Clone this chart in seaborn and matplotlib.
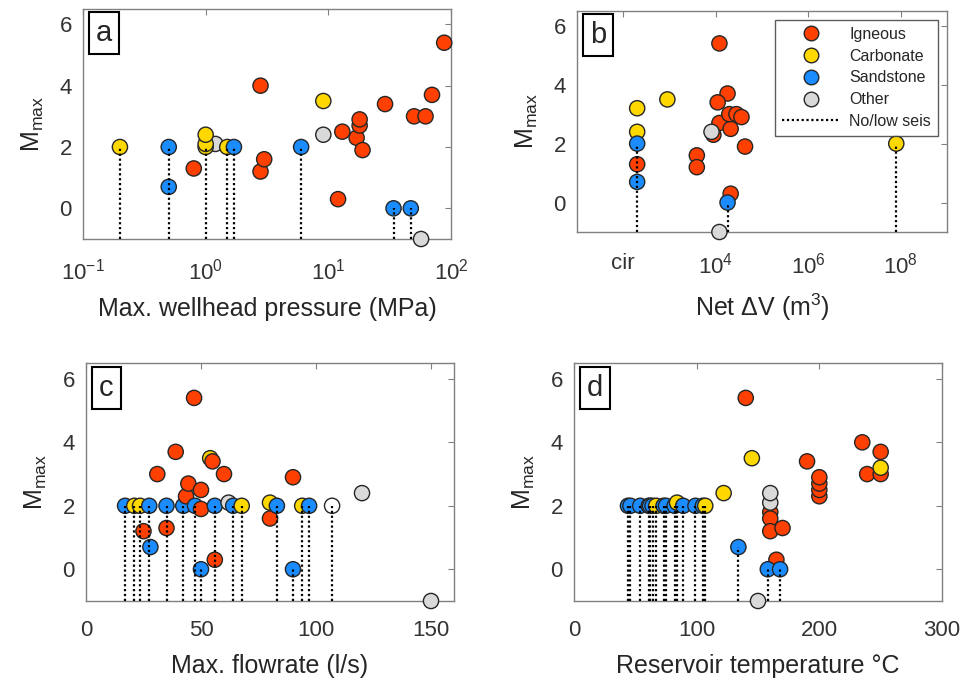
import numpy as np
import pandas as pd
import seaborn as sns
import matplotlib.pyplot as plt
from matplotlib.lines import Line2D

# panel a: max wellhead pressure (MPa)
a_pressure = [1.2, 0.2, 0.5, 0.5, 0.8, 1.0, 1.0, 1.0, 1.5, 1.7, 2.8, 2.8, 3.0, 6.0, 9.1, 9.1,
              13, 12, 17, 18, 18, 19, 29, 34, 47, 57, 50, 62, 70, 88]
a_mmax = [2.1, 2.0, 2.0, 0.7, 1.3, 2.0, 2.1, 2.4, 2.0, 2.0, 4.0, 1.2, 1.6, 2.0, 3.5, 2.4,
          2.5, 0.3, 2.3, 2.7, 2.9, 1.9, 3.4, 0.0, 0.0, -1.0, 3.0, 3.0, 3.7, 5.4]
a_rock = ["Other", "Carbonate", "Sandstone", "Sandstone", "Igneous", "Carbonate", "Carbonate",
          "Carbonate", "Carbonate", "Sandstone", "Igneous", "Igneous", "Igneous", "Sandstone",
          "Carbonate", "Other", "Igneous", "Igneous", "Igneous", "Igneous", "Igneous", "Igneous",
          "Igneous", "Sandstone", "Sandstone", "Other", "Igneous", "Igneous", "Igneous", "Igneous"]
a_lowseis = [0, 1, 1, 0, 0, 1, 0, 0, 1, 1, 0, 0, 0, 1, 0, 0,
             0, 0, 0, 0, 0, 0, 0, 1, 1, 0, 0, 0, 0, 0]

# panel b: net injected volume (m3), "cir" = circulation
b_volume = [200, 200, 200, 200, 200, 900, 3900, 3900, 12000, 18000, 11000, 12000, 8900, 8100,
            21000, 19600, 28000, 36000, 43000, 21000, 18000, 12000, 8e7]
b_mmax = [3.2, 2.4, 2.0, 1.3, 0.7, 3.5, 1.6, 1.2, 5.4, 3.7, 3.4, 2.7, 2.3, 2.4,
          2.5, 3.0, 3.0, 2.9, 1.9, 0.3, 0.0, -1.0, 2.0]
b_rock = ["Carbonate", "Carbonate", "Sandstone", "Igneous", "Sandstone", "Carbonate", "Igneous",
          "Igneous", "Igneous", "Igneous", "Igneous", "Igneous", "Igneous", "Other", "Igneous",
          "Igneous", "Igneous", "Igneous", "Igneous", "Igneous", "Sandstone", "Other", "Carbonate"]
b_lowseis = [0, 0, 1, 0, 0, 0, 0, 0, 0, 0, 0, 0, 0, 0, 0, 0, 0, 0, 0, 0, 1, 0, 1]

# panel c: max flowrate (l/s)
c_flow = [17, 21, 23.5, 27.5, 25, 28, 35, 35, 31, 39, 42.3, 43.5, 44.5, 47, 47.4, 50, 50, 50,
          54, 55, 56, 56, 60, 62, 64, 67.7, 80, 80, 83, 90, 90, 94, 97, 107, 120, 150]
c_mmax = [2.0, 2.0, 2.0, 2.0, 1.2, 0.7, 2.0, 1.3, 3.0, 3.7, 2.0, 2.3, 2.7, 5.4, 2.0, 2.5, 1.9, 0.0,
          3.5, 3.4, 2.0, 0.3, 3.0, 2.1, 2.0, 2.0, 2.1, 1.6, 2.0, 2.9, 0.0, 2.0, 2.0, 2.0, 2.4, -1.0]
c_rock = ["Sandstone", "Carbonate", "Carbonate", "Sandstone", "Igneous", "Sandstone", "Sandstone",
          "Igneous", "Igneous", "Igneous", "Sandstone", "Igneous", "Igneous", "Igneous", "Sandstone",
          "Igneous", "Igneous", "Sandstone", "Carbonate", "Igneous", "Sandstone", "Igneous",
          "Igneous", "Other", "Sandstone", "Carbonate", "Carbonate", "Igneous", "Sandstone",
          "Igneous", "Sandstone", "Carbonate", "Sandstone", "Unknown", "Other", "Other"]
c_lowseis = [1, 1, 1, 1, 0, 0, 1, 0, 0, 0, 1, 0, 0, 0, 1, 0, 0, 1,
             0, 0, 1, 0, 0, 0, 1, 1, 0, 0, 1, 0, 1, 1, 1, 1, 0, 0]

# panel d: reservoir temperature (C)
d_temp = [44, 46, 54, 61, 62, 64, 67, 73, 75, 82, 84, 89, 99, 105, 107,
          122, 134, 140, 145, 150, 160, 160, 160, 170, 160, 160, 165, 158, 168,
          190, 200, 200, 200, 200, 235, 239, 250, 250, 250]
d_mmax = [2.0, 2.0, 2.0, 2.0, 2.0, 2.0, 2.0, 2.0, 2.0, 2.0, 2.1, 2.0, 2.0, 2.0, 2.0,
          2.4, 0.7, 5.4, 3.5, -1.0, 1.8, 1.6, 1.2, 1.3, 2.1, 2.4, 0.3, 0.0, 0.0,
          3.4, 2.3, 2.5, 2.7, 2.9, 4.0, 3.0, 3.0, 3.7, 3.2]
d_rock = ["Sandstone", "Sandstone", "Sandstone", "Sandstone", "Sandstone", "Sandstone",
          "Carbonate", "Sandstone", "Sandstone", "Sandstone", "Carbonate", "Sandstone",
          "Sandstone", "Sandstone", "Carbonate",
          "Carbonate", "Sandstone", "Igneous", "Carbonate", "Other", "Igneous", "Igneous",
          "Igneous", "Igneous", "Other", "Other", "Igneous", "Sandstone", "Sandstone",
          "Igneous", "Igneous", "Igneous", "Igneous", "Igneous", "Igneous", "Igneous",
          "Igneous", "Igneous", "Carbonate"]
d_lowseis = [1] * 15 + [0, 1, 0, 0, 0, 0, 0, 0, 0, 0, 0, 0, 1, 1,
                        0, 0, 0, 0, 0, 0, 0, 0, 0, 0]

rock_names = ["Igneous", "Carbonate", "Sandstone", "Other"]
palette = {"Igneous": "#ff4000", "Carbonate": "#ffd800", "Sandstone": "#1a8cff",
           "Other": "#d9d9d9", "Unknown": "#ffffff"}

sns.set_style("white")
plt.rcParams["font.family"] = ["Liberation Sans", "DejaVu Sans"]
plt.rcParams["mathtext.default"] = "regular"

fig = plt.figure(figsize=(9.67, 6.79), dpi=100)
W, H = 967, 679
DOTS = (0, (1, 1.2))


def px_axes(left, top, right, bottom):
    return fig.add_axes([left / W, 1 - bottom / H, (right - left) / W, (bottom - top) / H])


def panel(ax, x, m, rock, low, letter, xlabel):
    df = pd.DataFrame({"x": x, "m": m, "rock": rock, "low": low})
    sns.scatterplot(data=df, x="x", y="m", hue="rock", palette=palette, s=120,
                    edgecolor="#262626", linewidth=1, legend=False, ax=ax, zorder=3)
    lows = df[df["low"] == 1]
    ax.vlines(lows["x"], -1, lows["m"], colors="black", linestyles=DOTS,
              linewidth=1.6, zorder=4)
    ax.set_ylim(-1, 6.5)
    ax.set_yticks([0, 2, 4, 6])
    ax.set_ylabel("M$_{max}$", fontsize=18, color="#262626", labelpad=10)
    ax.set_xlabel(xlabel, fontsize=18, color="#262626", labelpad=9)
    ax.tick_params(direction="in", length=4, color="#808080", labelcolor="#333333",
                   labelsize=16, top=True, right=True, which="major")
    ax.tick_params(axis="x", pad=14)
    ax.tick_params(axis="y", pad=8)
    ax.tick_params(which="minor", length=0)
    for s in ax.spines.values():
        s.set_color("#808080")
        s.set_linewidth(1)
    ax.text(0.035, 0.955, letter, transform=ax.transAxes, ha="left", va="top", fontsize=21,
            bbox=dict(boxstyle="square,pad=0.24", fc="white", ec="black", lw=1.5), zorder=6)


ax_a = px_axes(83, 9, 451, 239)
panel(ax_a, a_pressure, a_mmax, a_rock, a_lowseis, "a", "Max. wellhead pressure (MPa)")
ax_a.set_xscale("log")
ax_a.set_xlim(0.1, 100)
ax_a.set_xticks([0.1, 1, 10, 100])

ax_b = px_axes(577, 11, 947, 232)
panel(ax_b, b_volume, b_mmax, b_rock, b_lowseis, "b", "Net ΔV (m$^3$)")
ax_b.set_xscale("log")
ax_b.set_xlim(1e1, 1e9)
ax_b.set_xticks([1e2, 1e4, 1e6, 1e8])
ax_b.set_xticklabels(["cir", "$10^4$", "$10^6$", "$10^8$"])
ax_b.tick_params(axis="x", pad=15)

handles = [Line2D([], [], marker="o", ls="", mfc=palette[r], mec="#262626", ms=10.5, mew=1)
           for r in rock_names]
handles.append(Line2D([], [], color="black", ls=DOTS, lw=1.6))
ax_b.legend(handles, rock_names + ["No/low seis"], loc="upper right", fontsize=11.5,
            frameon=True, fancybox=False, edgecolor="#333333", handlelength=3.6,
            labelspacing=0.42, borderaxespad=0.55, borderpad=0.45,
            handletextpad=0.6).set_zorder(7)

ax_c = px_axes(86, 363, 454, 601)
panel(ax_c, c_flow, c_mmax, c_rock, c_lowseis, "c", "Max. flowrate (l/s)")
ax_c.set_xlim(0, 160)
ax_c.set_xticks([0, 50, 100, 150])

ax_d = px_axes(574, 363, 942, 601)
panel(ax_d, d_temp, d_mmax, d_rock, d_lowseis, "d", "Reservoir temperature °C")
ax_d.set_xlim(0, 300)
ax_d.set_xticks([0, 100, 200, 300])

for ax in (ax_a, ax_b, ax_c, ax_d):
    for c in ax.collections:
        c.set_clip_on(False)

fig.savefig("out.png", dpi=100)
